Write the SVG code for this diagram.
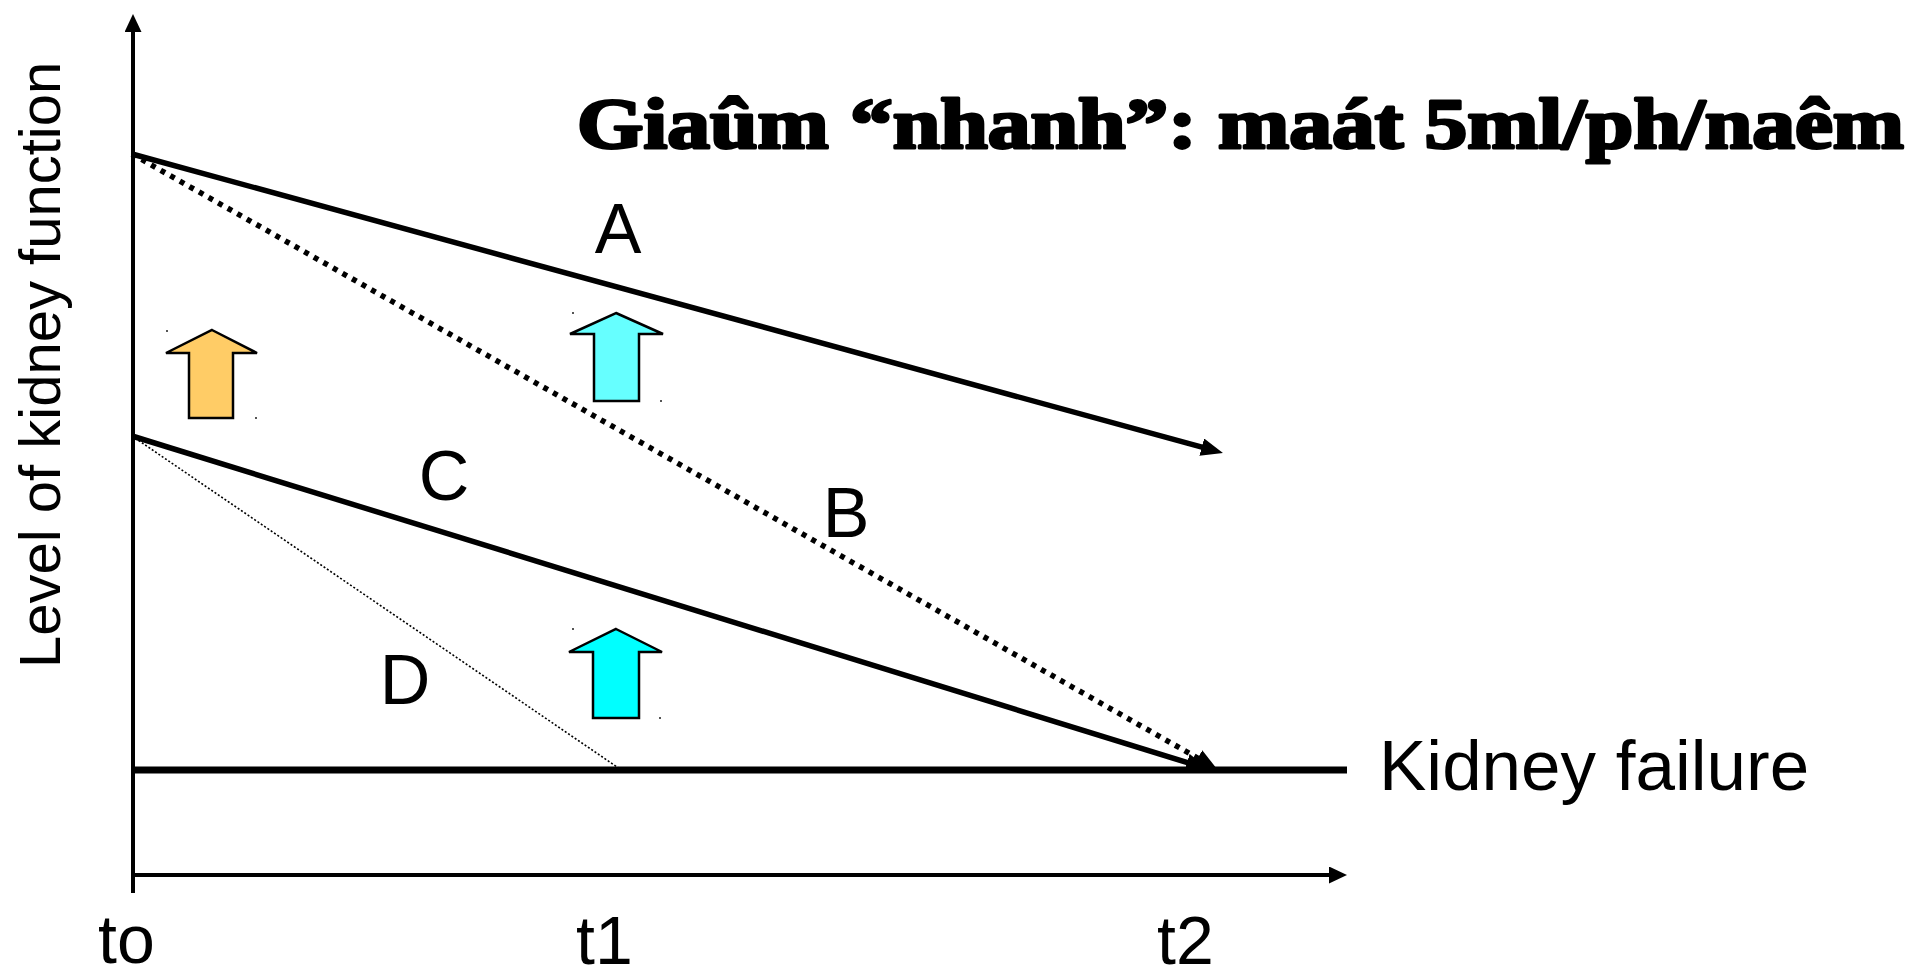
<svg xmlns="http://www.w3.org/2000/svg" width="1914" height="979" viewBox="0 0 1914 979">
  <style>
    .lbl { font-family: "Liberation Sans", Arial, sans-serif; fill: #000; }
    .ln { fill: none; stroke: #000; }
    .blk { stroke: #000; stroke-width: 2.5; stroke-linejoin: miter; }
    .speck { fill: #555; }
  </style>
  <defs>
    <marker id="ah" markerUnits="userSpaceOnUse" markerWidth="22" markerHeight="18" viewBox="0 0 22 18" refX="4" refY="9" orient="auto">
      <path d="M0,0 L22,9 L0,18 z" fill="#000"/>
    </marker>
    <marker id="ax" markerUnits="userSpaceOnUse" markerWidth="18" markerHeight="17" viewBox="0 0 18 17" refX="2" refY="8.5" orient="auto">
      <path d="M0,0 L18,8.5 L0,17 z" fill="#000"/>
    </marker>
  </defs>
  <rect width="1914" height="979" fill="#fff"/>

  <g id="connectors">
    <line id="y-axis" class="ln" x1="133" y1="893" x2="133" y2="30" stroke-width="4" marker-end="url(#ax)"/>
    <line id="x-axis" class="ln" x1="131" y1="875" x2="1331" y2="875" stroke-width="4" marker-end="url(#ax)"/>
    <line id="failure-line" class="ln" x1="132" y1="770" x2="1347" y2="770" stroke-width="7"/>
    <line id="line-A" class="ln" x1="132" y1="154" x2="1205.6" y2="448.2" stroke-width="5.5" marker-end="url(#ah)"/>
    <line id="line-B" class="ln" x1="132" y1="154" x2="1201.3" y2="760.1" stroke-width="5.5" stroke-dasharray="5 6" marker-end="url(#ah)"/>
    <line id="line-C" class="ln" x1="132" y1="436" x2="1190.8" y2="763.7" stroke-width="5.5" marker-end="url(#ah)"/>
    <line id="line-D" class="ln" x1="132" y1="436" x2="620" y2="769" stroke-width="1.6" stroke-dasharray="2 2"/>
  </g>

  <g id="title">
    <text x="577" y="148" font-family="'Liberation Serif', 'Times New Roman', serif" font-weight="bold" font-size="72" stroke="#000" stroke-width="3" stroke-linejoin="round" textLength="1327" lengthAdjust="spacingAndGlyphs">Giaûm “nhanh”: maát 5ml/ph/naêm</text>
  </g>

  <g id="y-label">
    <text class="lbl" font-size="58" transform="translate(60,668) rotate(-90)">Level of kidney function</text>
  </g>

  <g id="failure-label">
    <text class="lbl" x="1379" y="790" font-size="71">Kidney failure</text>
  </g>

  <g id="label-A"><text class="lbl" x="618" y="253" font-size="70" text-anchor="middle">A</text></g>
  <g id="label-B"><text class="lbl" x="846" y="537" font-size="70" text-anchor="middle">B</text></g>
  <g id="label-C"><text class="lbl" x="444" y="500" font-size="70" text-anchor="middle">C</text></g>
  <g id="label-D"><text class="lbl" x="405" y="704" font-size="70" text-anchor="middle">D</text></g>

  <g id="tick-labels">
    <text class="lbl" x="98" y="963" font-size="68">to</text>
    <text class="lbl" x="576" y="964" font-size="68">t1</text>
    <text class="lbl" x="1157" y="964" font-size="68">t2</text>
  </g>

  <g id="arrow-orange">
    <path class="blk" fill="#FFCC66" d="M212,330 L257,353 L233,353 L233,418 L189,418 L189,353 L166,353 Z"/>
    <rect class="speck" x="166" y="330" width="2" height="2"/>
    <rect class="speck" x="255" y="417" width="2" height="2"/>
  </g>
  <g id="arrow-cyan-top">
    <path class="blk" fill="#66FFFF" d="M616,313 L663,334 L639,334 L639,401 L594,401 L594,334 L570,334 Z"/>
    <rect class="speck" x="572" y="312" width="2" height="2"/>
    <rect class="speck" x="660" y="400" width="2" height="2"/>
  </g>
  <g id="arrow-cyan-bottom">
    <path class="blk" fill="#00FFFF" d="M616,629 L662,652 L639,652 L639,718 L593,718 L593,652 L569,652 Z"/>
    <rect class="speck" x="572" y="628" width="2" height="2"/>
    <rect class="speck" x="659" y="717" width="2" height="2"/>
  </g>
</svg>
